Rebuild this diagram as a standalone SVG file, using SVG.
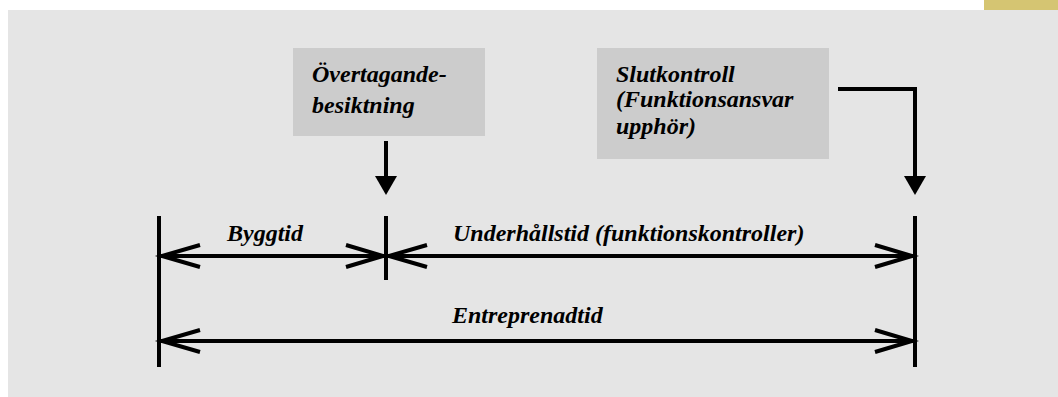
<svg xmlns="http://www.w3.org/2000/svg" width="1058" height="397" viewBox="0 0 1058 397">
<style>
text{font-family:'Liberation Serif','Times New Roman',Times,serif;font-weight:700;font-style:italic;font-size:24px;fill:#000}
.box{fill:#cccccc}
.ln{stroke:#000;stroke-width:4;fill:none}
.ah{stroke:#000;stroke-width:4;fill:none;stroke-linecap:butt}
</style>
<rect x="0" y="0" width="1058" height="397" fill="#ffffff"/>
<rect x="8" y="10" width="1050" height="387" fill="#e5e5e5"/>
<rect x="984" y="0" width="74" height="10" fill="#d5c572"/>
<g id="node-overtagande">
<rect class="box" x="293" y="48" width="192" height="88"/>
<text x="312" y="82" font-family="Liberation Serif, serif">Övertagande-</text>
<text x="312" y="113" font-family="Liberation Serif, serif">besiktning</text>
</g>
<g id="node-slutkontroll">
<rect class="box" x="597" y="48" width="232" height="111"/>
<text x="616" y="82" font-family="Liberation Serif, serif">Slutkontroll</text>
<text x="616" y="107" font-family="Liberation Serif, serif">(Funktionsansvar</text>
<text x="616" y="134" font-family="Liberation Serif, serif">upphör)</text>
</g>
<g id="node-byggtid"><text x="227" y="241" font-family="Liberation Serif, serif">Byggtid</text></g>
<g id="node-underhallstid"><text x="453" y="241" font-family="Liberation Serif, serif">Underhållstid (funktionskontroller)</text></g>
<g id="node-entreprenadtid"><text x="452" y="323" font-family="Liberation Serif, serif">Entreprenadtid</text></g>
<g id="connectors">
<line class="ln" x1="386" y1="141" x2="386" y2="178"/>
<polygon points="375,176 397,176 386,195" fill="#000"/>
<polyline class="ln" points="838,89 915,89 915,178"/>
<polygon points="904,176 926,176 915,195" fill="#000"/>
<line class="ln" x1="159" y1="216" x2="159" y2="367"/>
<line class="ln" x1="386" y1="216" x2="386" y2="280"/>
<line class="ln" x1="915" y1="216" x2="915" y2="367"/>
<line class="ln" x1="161" y1="256" x2="384" y2="256"/>
<polyline class="ah" points="200,245 162,256 200,267"/>
<polyline class="ah" points="346,245 383,256 346,267"/>
<line class="ln" x1="388" y1="256" x2="913" y2="256"/>
<polyline class="ah" points="427,245 389,256 427,267"/>
<polyline class="ah" points="875,245 912,256 875,267"/>
<line class="ln" x1="161" y1="341" x2="913" y2="341"/>
<polyline class="ah" points="200,330 162,341 200,352"/>
<polyline class="ah" points="875,330 912,341 875,352"/>
</g>
</svg>
